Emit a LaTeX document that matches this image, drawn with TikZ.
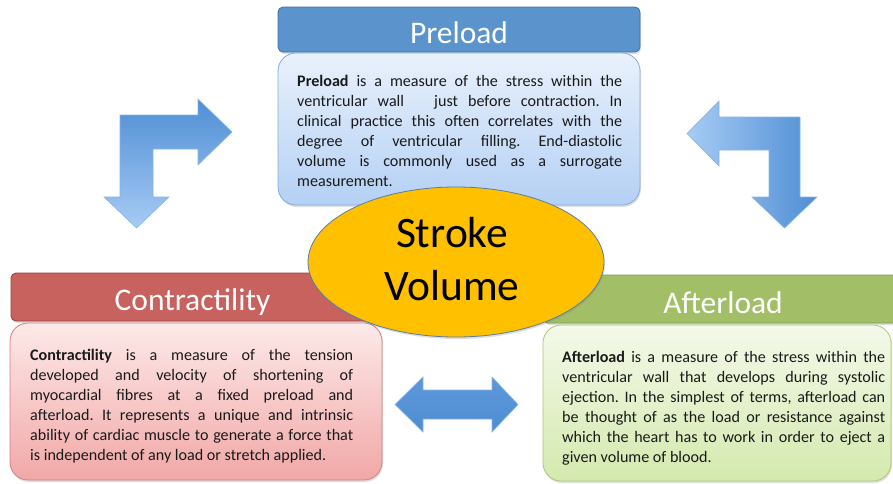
\documentclass[tikz,border=0pt]{standalone}
\usepackage{fontspec}
\setmainfont{Carlito}
\usetikzlibrary{shapes.geometric,shadows}
\definecolor{txt}{HTML}{1A1A1A}
\definecolor{preT}{HTML}{5B93CC}
\definecolor{preTd}{HTML}{41709F}
\definecolor{preB1}{HTML}{E9F1FC}
\definecolor{preB2}{HTML}{B4D0F4}
\definecolor{preBd}{HTML}{86ABD9}
\definecolor{conT}{HTML}{C8625F}
\definecolor{conTd}{HTML}{9E3F3C}
\definecolor{conB1}{HTML}{FDE9E9}
\definecolor{conB2}{HTML}{F1A8A7}
\definecolor{conBd}{HTML}{D2807E}
\definecolor{aftT}{HTML}{A2BF68}
\definecolor{aftTd}{HTML}{7E9B46}
\definecolor{aftB1}{HTML}{F4F9EA}
\definecolor{aftB2}{HTML}{D4E9AE}
\definecolor{aftBd}{HTML}{ABC77B}
\definecolor{gold}{HTML}{FFC000}
\definecolor{ellBd}{HTML}{5A7CA3}
\definecolor{arrD}{HTML}{4F8ED4}
\definecolor{arrL}{HTML}{A6CBF4}
\definecolor{arrE}{HTML}{86B4E6}
\newcommand{\bodysetup}{\hyphenpenalty=10000\exhyphenpenalty=10000\frenchspacing\strut}
\begin{document}
\begin{tikzpicture}[x=1pt,y=-1pt,
  box/.style={draw, anchor=north west, inner sep=0pt, outer sep=0pt, line width=0.8pt,
    drop shadow={opacity=0.25, shadow xshift=1pt, shadow yshift=-2pt}},
  titlebox/.style={box, rounded corners=5pt},
  bodybox/.style={box, rounded corners=18pt},
  bodytext/.style={anchor=north west, inner sep=0pt, text width=#1, align=justify, text=txt,
    font=\fontsize{16.1}{20}\selectfont},
  titletext/.style={anchor=base, inner sep=0pt, text=white, font=\fontsize{31.5}{38}\selectfont},
  svtext/.style={anchor=base, inner sep=0pt, text=black, font=\fontsize{43.5}{52}\selectfont},
  blockarrow/.style={draw=arrE, line width=0.6pt, line join=miter}
]
\useasboundingbox (0,0) rectangle (893,483);

% block arrows
\shadedraw[blockarrow, top color=arrD, bottom color=arrL]
  (120,115) -- (198,115) -- (198,99) -- (232,132) -- (198,165) -- (198,149)
  -- (153,149) -- (153,197) -- (169,197) -- (136.5,228) -- (104,197) -- (120,197) -- cycle;
\shadedraw[blockarrow, left color=arrL, right color=arrD]
  (800,117) -- (800,197) -- (817,197) -- (784.5,228) -- (752,197) -- (769,197)
  -- (769,150) -- (719,150) -- (719,166) -- (687,133.5) -- (719,101) -- (719,117) -- cycle;
\shadedraw[blockarrow, top color=arrD!85!arrL, bottom color=arrD]
  (395,404.5) -- (423,377) -- (423,390) -- (492,390) -- (492,377) -- (518,404.5)
  -- (492,432) -- (492,419) -- (423,419) -- (423,432) -- cycle;

% Preload
\node[titlebox, draw=preTd, fill=preT, minimum width=362pt, minimum height=45pt] (pret) at (278,7) {};
\node[bodybox, draw=preBd, top color=preB1, bottom color=preB2, minimum width=362pt, minimum height=152pt] (preb) at (278,53) {};
\node[titletext] (prett) at (459,43) {Preload};
\node[bodytext=325pt] (prebt) at (297,72) {\bodysetup\textbf{Preload} is a measure of the stress within the\linebreak ventricular wall \ \ just before contraction. In\linebreak clinical practice this often correlates with the\linebreak degree of ventricular filling. End-diastolic\linebreak volume is commonly used as a surrogate\linebreak measurement.};

% Contractility
\node[titlebox, draw=conTd, fill=conT, minimum width=371pt, minimum height=48pt] (cont) at (11,273) {};
\node[bodybox, draw=conBd, top color=conB1, bottom color=conB2, minimum width=372pt, minimum height=157pt] (conb) at (10,323) {};
\node[titletext] (contt) at (192.5,310) {Contractility};
\node[bodytext=323pt] (conbt) at (30,346) {\bodysetup\textbf{Contractility} is a measure of the tension\linebreak developed and velocity of shortening of\linebreak myocardial fibres at a fixed preload and\linebreak afterload. It represents a unique and intrinsic\linebreak ability of cardiac muscle to generate a force that\linebreak is independent of any load or stretch applied.};

% Afterload
\node[titlebox, draw=aftTd, fill=aftT, minimum width=358pt, minimum height=48pt] (aftt) at (543,275) {};
\node[bodybox, draw=aftBd, top color=aftB1, bottom color=aftB2, minimum width=348pt, minimum height=156pt] (aftb) at (543,325) {};
\node[titletext] (afttt) at (723,313) {Afterload};
\node[bodytext=323pt] (aftbt) at (562,348) {\bodysetup\textbf{Afterload} is a measure of the stress within the\linebreak ventricular wall that develops during systolic\linebreak ejection. In the simplest of terms, afterload can\linebreak be thought of as the load or resistance against\linebreak which the heart has to work in order to eject a\linebreak given volume of blood.};

% Stroke volume
\node[ellipse, draw=ellBd, fill=gold, line width=0.8pt, inner sep=0pt, minimum width=296pt, minimum height=150pt,
  drop shadow={opacity=0.25, shadow xshift=1pt, shadow yshift=-2pt}] (sv) at (456,262) {};
\node[svtext] (svs) at (452,247) {Stroke};
\node[svtext] (svv) at (452,300) {Volume};
\end{tikzpicture}
\end{document}
